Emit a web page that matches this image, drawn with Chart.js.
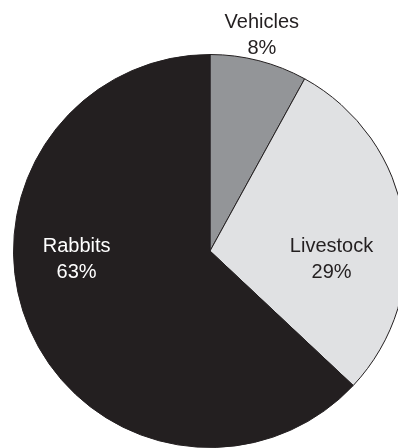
<!DOCTYPE html>
<html>
<head>
<meta charset="utf-8">
<script src="https://cdn.jsdelivr.net/npm/chart.js@4"></script>
<style>
    html, body { margin: 0; padding: 0; background: #ffffff; overflow: hidden; }
    #wrap { position: absolute; left: 0; top: 0; width: 420px; height: 504px; }
</style>
</head>
<body>
<div id="wrap"><canvas id="pie-chart" width="420" height="504"></canvas></div>
<script>
    var categories = ['Vehicles', 'Livestock', 'Rabbits'];
    var shares = [8, 29, 63];
    var sliceColors = ['#939598', '#e0e1e3', '#231f20'];

    // label placement: angle from 12 o'clock (degrees, clockwise) and distance as a fraction of the radius
    var labelAngles = [13.5, 94, 266.5];
    var labelDistances = [1.13, 0.62, 0.68];
    var labelColors = ['#231f20', '#231f20', '#ffffff'];

    var sliceLabels = {
        id: 'sliceLabels',
        afterDatasetsDraw: function (chart) {
            var ctx = chart.ctx;
            var arcs = chart.getDatasetMeta(0).data;
            ctx.save();
            ctx.font = '20px "Liberation Sans", Arial, sans-serif';
            ctx.textAlign = 'center';
            ctx.textBaseline = 'middle';
            arcs.forEach(function (arc, i) {
                var a = (labelAngles[i] - 90) * Math.PI / 180;
                var r = arc.outerRadius * labelDistances[i];
                var x = arc.x + Math.cos(a) * r;
                var y = arc.y + Math.sin(a) * r;
                ctx.fillStyle = labelColors[i];
                ctx.fillText(categories[i], x, y - 13);
                ctx.fillText(shares[i] + '%', x, y + 13);
            });
            ctx.restore();
        }
    };

    new Chart(document.getElementById('pie-chart').getContext('2d'), {
        type: 'pie',
        data: {
            labels: categories,
            datasets: [{
                data: shares,
                backgroundColor: sliceColors,
                borderColor: '#231f20',
                borderWidth: 1
            }]
        },
        options: {
            responsive: false,
            animation: false,
            layout: { padding: { left: 13, right: 13, top: 54, bottom: 56 } },
            plugins: {
                legend: { display: false },
                tooltip: { enabled: false }
            }
        },
        plugins: [sliceLabels]
    });
</script>
</body>
</html>
